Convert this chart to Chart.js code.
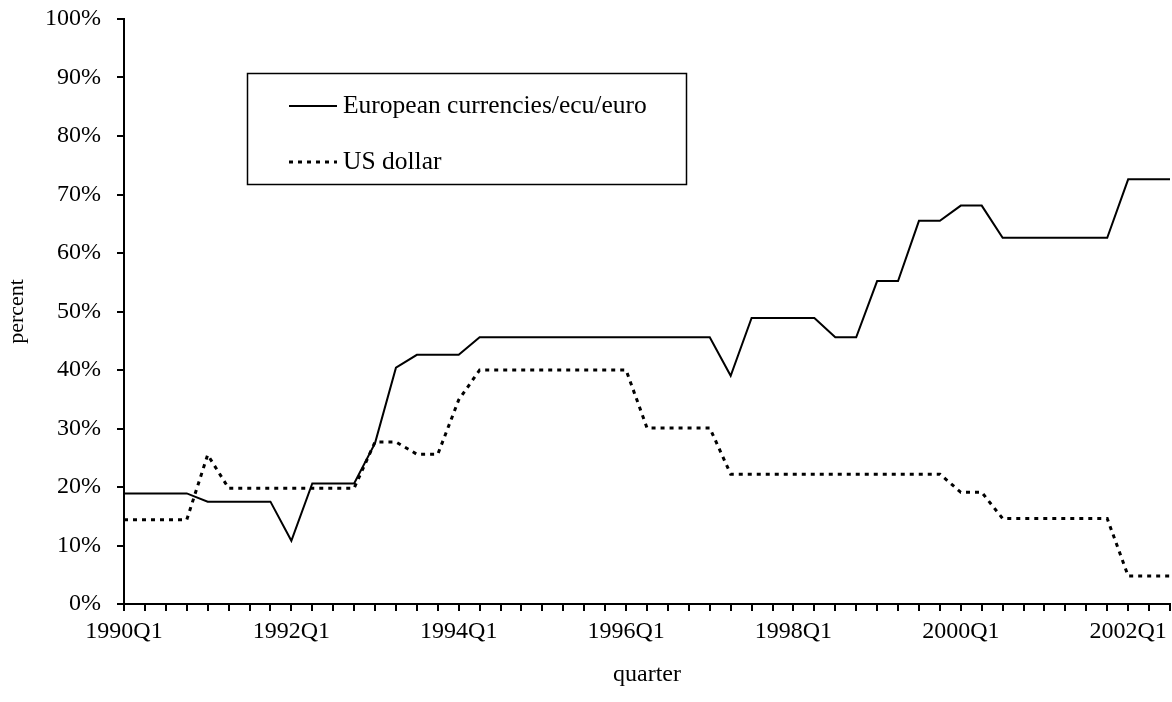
<!DOCTYPE html>
<html>
<head>
<meta charset="utf-8">
<script src="https://cdn.jsdelivr.net/npm/chart.js@4/dist/chart.umd.min.js"></script>
<style>
  html, body { margin: 0; padding: 0; background: #fff; }
  #wrap { width: 1172px; height: 702px; position: relative; }
</style>
</head>
<body>
<div id="wrap"><canvas id="currencyChart"></canvas></div>
<script>
const quarters = [
  '1990Q1', '1990Q2', '1990Q3', '1990Q4', '1991Q1', '1991Q2', '1991Q3', '1991Q4',
  '1992Q1', '1992Q2', '1992Q3', '1992Q4', '1993Q1', '1993Q2', '1993Q3', '1993Q4',
  '1994Q1', '1994Q2', '1994Q3', '1994Q4', '1995Q1', '1995Q2', '1995Q3', '1995Q4',
  '1996Q1', '1996Q2', '1996Q3', '1996Q4', '1997Q1', '1997Q2', '1997Q3', '1997Q4',
  '1998Q1', '1998Q2', '1998Q3', '1998Q4', '1999Q1', '1999Q2', '1999Q3', '1999Q4',
  '2000Q1', '2000Q2', '2000Q3', '2000Q4', '2001Q1', '2001Q2', '2001Q3', '2001Q4',
  '2002Q1', '2002Q2', '2002Q3'
];

const tickLabels = ['1990Q1', '1992Q1', '1994Q1', '1996Q1', '1998Q1', '2000Q1', '2002Q1'];

const european = [
  18.9, 18.9, 18.9, 18.9, 17.5, 17.5, 17.5, 17.5,
  10.8, 20.6, 20.6, 20.6, 27.5, 40.4, 42.6, 42.6,
  42.6, 45.6, 45.6, 45.6, 45.6, 45.6, 45.6, 45.6,
  45.6, 45.6, 45.6, 45.6, 45.6, 39.0, 48.9, 48.9,
  48.9, 48.9, 45.6, 45.6, 55.2, 55.2, 65.5, 65.5,
  68.1, 68.1, 62.6, 62.6, 62.6, 62.6, 62.6, 62.6,
  72.6, 72.6, 72.6
];

const usDollar = [
  14.4, 14.4, 14.4, 14.4, 25.5, 19.8, 19.8, 19.8,
  19.8, 19.8, 19.8, 19.8, 27.7, 27.7, 25.6, 25.6,
  34.9, 40.0, 40.0, 40.0, 40.0, 40.0, 40.0, 40.0,
  40.0, 30.1, 30.1, 30.1, 30.1, 22.2, 22.2, 22.2,
  22.2, 22.2, 22.2, 22.2, 22.2, 22.2, 22.2, 22.2,
  19.1, 19.1, 14.6, 14.6, 14.6, 14.6, 14.6, 14.6,
  4.8, 4.8, 4.8
];

const serif = '"Liberation Serif", "Times New Roman", serif';

// legend drawn as a framed box inside the plot, like the original
const legendBox = {
  id: 'legendBox',
  afterDraw(chart) {
    const ctx = chart.ctx;
    ctx.save();
    ctx.strokeStyle = '#000';
    ctx.lineWidth = 1.5;
    ctx.strokeRect(247.5, 73.5, 439, 111);
    chart.data.datasets.forEach((ds, i) => {
      const y = 106 + i * 56;
      ctx.setLineDash(ds.borderDash || []);
      ctx.lineWidth = ds.borderWidth;
      ctx.beginPath();
      ctx.moveTo(289, y);
      ctx.lineTo(337, y);
      ctx.stroke();
      ctx.setLineDash([]);
      ctx.fillStyle = '#000';
      ctx.font = '25.5px ' + serif;
      ctx.textBaseline = 'middle';
      ctx.textAlign = 'left';
      ctx.fillText(ds.label, 343, y);
    });
    ctx.restore();
  }
};

const ctx = document.getElementById('currencyChart').getContext('2d');

new Chart(ctx, {
  type: 'line',
  data: {
    labels: quarters,
    datasets: [
      {
        label: 'European currencies/ecu/euro',
        data: european,
        borderColor: '#000',
        borderWidth: 2,
        pointRadius: 0,
        tension: 0,
        fill: false
      },
      {
        label: 'US dollar',
        data: usDollar,
        borderColor: '#000',
        borderWidth: 3,
        borderDash: [4, 5],
        pointRadius: 0,
        tension: 0,
        fill: false
      }
    ]
  },
  options: {
    responsive: true,
    maintainAspectRatio: false,
    animation: false,
    layout: { padding: { top: 19, right: 2, left: 0, bottom: 0 } },
    plugins: {
      legend: { display: false },
      tooltip: { enabled: false }
    },
    scales: {
      x: {
        offset: false,
        grid: {
          display: true,
          drawOnChartArea: false,
          drawTicks: true,
          tickLength: 7,
          color: '#000',
          lineWidth: 2
        },
        border: { display: true, color: '#000', width: 2 },
        ticks: {
          autoSkip: false,
          maxRotation: 0,
          minRotation: 0,
          padding: 6,
          color: '#000',
          font: { family: serif, size: 24 },
          callback: function (val, i) {
            const q = quarters[i];
            return tickLabels.includes(q) ? q : '';
          }
        },
        title: {
          display: true,
          text: 'quarter',
          color: '#000',
          font: { family: serif, size: 24 },
          padding: 13
        },
        afterFit: scale => {
          scale.height = 98;
          scale.paddingLeft = 0;
          scale.paddingRight = 0;
        }
      },
      y: {
        min: 0,
        max: 100,
        grid: {
          display: true,
          drawOnChartArea: false,
          drawTicks: true,
          tickLength: 7,
          color: '#000',
          lineWidth: 2
        },
        border: { display: true, color: '#000', width: 2 },
        ticks: {
          stepSize: 10,
          padding: 16,
          color: '#000',
          font: { family: serif, size: 24 },
          callback: val => val + '%'
        },
        title: {
          display: true,
          text: 'percent',
          color: '#000',
          font: { family: serif, size: 22 },
          padding: 4
        },
        afterFit: scale => {
          scale.width = 124;
          scale.paddingTop = 0;
          scale.paddingBottom = 0;
        }
      }
    }
  },
  plugins: [legendBox]
});
</script>
</body>
</html>
